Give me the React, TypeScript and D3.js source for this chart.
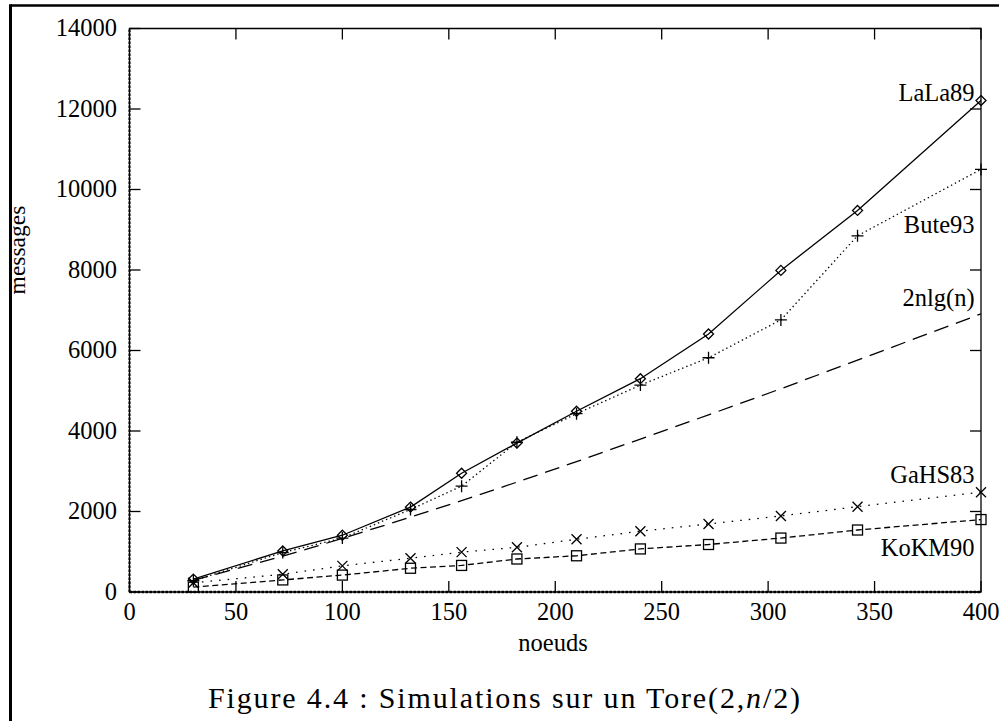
import React from "react";
import * as d3 from "d3";

const nodes = [30, 72, 100, 132, 156, 182, 210, 240, 272, 306, 342, 400];
const lala89 = [320, 1020, 1410, 2110, 2950, 3700, 4490, 5300, 6410, 7990, 9480, 12210];
const bute93 = [280, 980, 1340, 2050, 2630, 3720, 4430, 5140, 5820, 6760, 8850, 10500];
const twoNlgN = [290, 890, 1330, 1860, 2270, 2730, 3240, 3800, 4400, 5050, 5760, 6910];
const gahs83 = [230, 440, 650, 840, 990, 1110, 1310, 1510, 1690, 1890, 2120, 2480];
const kokm90 = [120, 300, 420, 590, 660, 820, 900, 1070, 1180, 1340, 1540, 1800];

const xTicks = [0, 50, 100, 150, 200, 250, 300, 350, 400];
const yTicks = [0, 2000, 4000, 6000, 8000, 10000, 12000, 14000];

const seriesNames = ["LaLa89", "Bute93", "2nlg(n)", "GaHS83", "KoKM90"];
const labelX = [397, 397, 397, 397, 397];
const labelY = [12210, 8930, 7100, 2715, 895];

const W = 999;
const H = 721;
const FONT = "'Liberation Serif', 'Times New Roman', serif";

export default function App() {
  const x = d3.scaleLinear().domain([0, 400]).range([129.5, 981]);
  const y = d3.scaleLinear().domain([0, 14000]).range([592, 28.5]);
  const line = d3
    .line<[number, number]>()
    .x((d) => x(d[0]))
    .y((d) => y(d[1]));

  const series = [
    { name: seriesNames[0], vals: lala89, dash: "none", marker: "diamond" },
    { name: seriesNames[1], vals: bute93, dash: "1.4,3", marker: "plus" },
    { name: seriesNames[2], vals: twoNlgN, dash: "15,8", marker: "none" },
    { name: seriesNames[3], vals: gahs83, dash: "1.6,7", marker: "cross" },
    { name: seriesNames[4], vals: kokm90, dash: "6,3.5", marker: "square" },
  ];

  const marker = (type: string, cx: number, cy: number, key: string) => {
    const s = 5;
    if (type === "diamond")
      return (
        <path key={key} d={`M${cx},${cy - s} L${cx + s},${cy} L${cx},${cy + s} L${cx - s},${cy} Z`} fill="none" stroke="#000" strokeWidth={1.3} />
      );
    if (type === "plus")
      return (
        <path key={key} d={`M${cx - s - 1},${cy} H${cx + s + 1} M${cx},${cy - s - 1} V${cy + s + 1}`} fill="none" stroke="#000" strokeWidth={1.3} />
      );
    if (type === "cross")
      return (
        <path key={key} d={`M${cx - s},${cy - s} L${cx + s},${cy + s} M${cx - s},${cy + s} L${cx + s},${cy - s}`} fill="none" stroke="#000" strokeWidth={1.3} />
      );
    if (type === "square")
      return <rect key={key} x={cx - s} y={cy - s} width={2 * s} height={2 * s} fill="none" stroke="#000" strokeWidth={1.3} />;
    return null;
  };

  const x0 = x(0), x1 = x(400), y0 = y(0), y1 = y(14000);
  const tl = 11;

  return (
    <div style={{ position: "absolute", left: 0, top: 0, width: W, height: H, background: "#fff" }}>
      <svg width={W} height={H} style={{ display: "block" }}>
        <rect x={0} y={0} width={W} height={H} fill="#fff" />
        {/* page frame */}
        <line x1={10.5} y1={5.5} x2={W} y2={5.5} stroke="#000" strokeWidth={2.6} />
        <line x1={10.5} y1={4.2} x2={10.5} y2={H} stroke="#000" strokeWidth={3} />

        {/* plot border */}
        <path d={`M${x0},${y0} V${y1} H${x1} V${y0} Z`} fill="none" stroke="#000" strokeWidth={1.3} />
        {/* zero axes dotted overlay */}
        <line x1={x0} y1={y0} x2={x1} y2={y0} stroke="#000" strokeWidth={2.4} strokeDasharray="2.5,1.5" />
        <line x1={x0} y1={y0} x2={x0} y2={y1} stroke="#000" strokeWidth={2} strokeDasharray="2.5,1.5" />

        {/* ticks */}
        {yTicks.map((t) => (
          <g key={"y" + t}>
            <line x1={x0} x2={x0 + tl} y1={y(t)} y2={y(t)} stroke="#000" strokeWidth={1.3} />
            <line x1={x1} x2={x1 - tl} y1={y(t)} y2={y(t)} stroke="#000" strokeWidth={1.3} />
            <text x={117} y={y(t) + 7.5} textAnchor="end" fontFamily={FONT} fontSize={24.5} fill="#000">
              {t}
            </text>
          </g>
        ))}
        {xTicks.map((t) => (
          <g key={"x" + t}>
            <line x1={x(t)} x2={x(t)} y1={y0} y2={y0 - tl} stroke="#000" strokeWidth={1.3} />
            <line x1={x(t)} x2={x(t)} y1={y1} y2={y1 + tl} stroke="#000" strokeWidth={1.3} />
            <text x={x(t)} y={620} textAnchor="middle" fontFamily={FONT} fontSize={24.5} fill="#000">
              {t}
            </text>
          </g>
        ))}

        {/* axis titles */}
        <text x={553} y={651} textAnchor="middle" fontFamily={FONT} fontSize={24.5} fill="#000">
          noeuds
        </text>
        <text transform="translate(25,250) rotate(-90)" textAnchor="middle" fontFamily={FONT} fontSize={23.5} fill="#000">
          messages
        </text>

        {/* series */}
        {series.map((s) => {
          const pts = nodes.map((n, i) => [n, s.vals[i]] as [number, number]);
          return (
            <g key={s.name}>
              <path d={line(pts) || ""} fill="none" stroke="#000" strokeWidth={1.3} strokeDasharray={s.dash} />
              {pts.map((p, i) => marker(s.marker, x(p[0]), y(p[1]), s.name + i))}
            </g>
          );
        })}

        {/* series labels */}
        {seriesNames.map((n, i) => (
          <text key={n} x={x(labelX[i])} y={y(labelY[i])} textAnchor="end" fontFamily={FONT} fontSize={24.5} fill="#000">
            {n}
          </text>
        ))}

        {/* caption */}
        <text x={208} y={708} fontFamily={FONT} fontSize={30} fill="#000" textLength={592} lengthAdjust="spacing">
          Figure 4.4 : Simulations sur un Tore(2,<tspan fontStyle="italic">n</tspan>/2)
        </text>
      </svg>
    </div>
  );
}
